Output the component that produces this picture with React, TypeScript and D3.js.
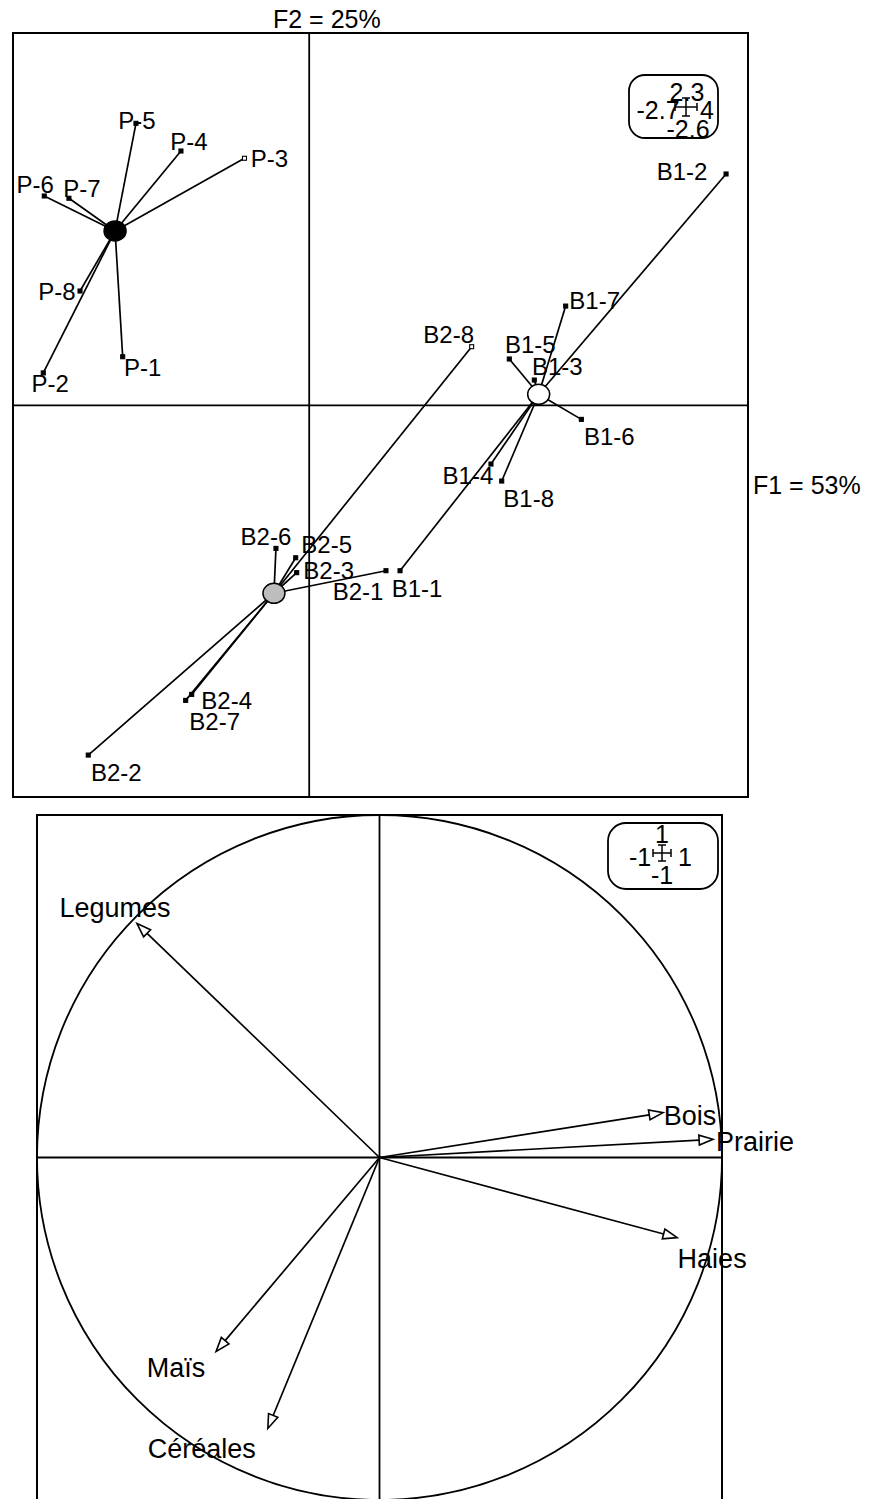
import React from 'react';
import * as d3 from 'd3';

// ---------- data: individuals (top panel) ----------
const pointNames = ['P-1', 'P-2', 'P-3', 'P-4', 'P-5', 'P-6', 'P-7', 'P-8',
  'B1-1', 'B1-2', 'B1-3', 'B1-4', 'B1-5', 'B1-6', 'B1-7', 'B1-8',
  'B2-1', 'B2-2', 'B2-3', 'B2-4', 'B2-5', 'B2-6', 'B2-7', 'B2-8'];
const pointGroups = ['P', 'P', 'P', 'P', 'P', 'P', 'P', 'P',
  'B1', 'B1', 'B1', 'B1', 'B1', 'B1', 'B1', 'B1',
  'B2', 'B2', 'B2', 'B2', 'B2', 'B2', 'B2', 'B2'];
const pointF1 = [-1.70, -2.424, -0.59, -1.169, -1.579, -2.415, -2.19, -2.089,
  0.828, 3.80, 2.052, 1.657, 1.824, 2.481, 2.338, 1.755,
  0.700, -2.014, -0.114, -1.071, -0.123, -0.303, -1.126, 1.481];
const pointF2 = [0.30, 0.20, 1.526, 1.571, 1.742, 1.293, 1.279, 0.706,
  -1.022, 1.429, 0.156, -0.363, 0.286, -0.087, 0.613, -0.468,
  -1.022, -2.161, -1.034, -1.786, -0.942, -0.884, -1.823, 0.362];
// label displacement from its point (pixels)
const labelDx = [20, 7, 25, 8, 1, -9, 13, -23,
  17, -44, 23, -23, 21, 28, 29, 27,
  -28, 28, 32, 35, 31, -10, 29, -23];
const labelDy = [11, 11, 0, -9, -3, -11, -10, 0,
  18, -2, -14, 11, -14, 17, -6, 17,
  21, 17, -2, 6, -13, -12, 21, -12];

const groupNames = ['P', 'B1', 'B2'];
const groupFill = ['#000000', '#ffffff', '#bdbdbd'];

const f1Legend = [-2.7, 4];
const f2Legend = [-2.6, 2.3];
const axisTitles = ['F1 = 53%', 'F2 = 25%'];

// ---------- data: variables (correlation circle) ----------
const varNames = ['Legumes', 'Bois', 'Prairie', 'Haies', 'Maïs', 'Céréales'];
const varF1 = [-0.708, 0.828, 0.974, 0.869, -0.477, -0.326];
const varF2 = [0.683, 0.131, 0.053, -0.234, -0.566, -0.791];
const varDx = [-22, 27, 42, 35, -40, -66];
const varDy = [-16, 3, 3, 21, 17, 21];
const circleLegend = [-1, 1];

const FONT = '"Liberation Sans", Arial, Helvetica, sans-serif';

function Cross({ cx, cy, hx, hy, t }: { cx: number; cy: number; hx: number; hy: number; t: number }) {
  return (
    <g stroke="#000" strokeWidth={1.5}>
      <line x1={cx - hx} y1={cy} x2={cx + hx} y2={cy} />
      <line x1={cx} y1={cy - hy} x2={cx} y2={cy + hy} />
      <line x1={cx - hx} y1={cy - t} x2={cx - hx} y2={cy + t} />
      <line x1={cx + hx} y1={cy - t} x2={cx + hx} y2={cy + t} />
      <line x1={cx - t} y1={cy - hy} x2={cx + t} y2={cy - hy} />
      <line x1={cx - t} y1={cy + hy} x2={cx + t} y2={cy + hy} />
    </g>
  );
}

export default function App() {
  // ---- top panel scales ----
  const x = d3.scaleLinear().domain([-2.7, 4]).range([13, 748]);
  const y = d3.scaleLinear().domain([-2.42, 2.3]).range([797, 33]);

  const centers = groupNames.map((g) => {
    const idx = pointGroups.map((pg, i) => (pg === g ? i : -1)).filter((i) => i >= 0);
    return {
      g,
      cx: d3.mean(idx, (i) => pointF1[i]) as number,
      cy: d3.mean(idx, (i) => pointF2[i]) as number,
    };
  });
  const centerOf = (g: string) => centers.find((c) => c.g === g)!;

  // ---- bottom panel scales ----
  const u = d3.scaleLinear().domain(circleLegend).range([37, 722]);
  const v = d3.scaleLinear().domain(circleLegend).range([1500, 815]);
  const r = u(1) - u(0);

  const [x0, x1] = x.range();
  const [y1, y0] = y.range();

  return (
    <svg width={872} height={1499} style={{ position: 'absolute', left: 0, top: 0, background: '#fff' }}
      fontFamily={FONT}>
      {/* ============ TOP PANEL ============ */}
      <rect x={x0} y={y0} width={x1 - x0} height={y1 - y0} fill="none" stroke="#000" strokeWidth={2} />
      <line x1={x(0)} y1={y0} x2={x(0)} y2={y1} stroke="#000" strokeWidth={1.8} />
      <line x1={x0} y1={y(0)} x2={x1} y2={y(0)} stroke="#000" strokeWidth={1.8} />
      <text x={273} y={28} fontSize={25}>{axisTitles[1]}</text>
      <text x={753} y={494} fontSize={25}>{axisTitles[0]}</text>

      {/* legend box */}
      <rect x={629} y={75} width={89} height={63} rx={16} fill="#fff" stroke="#000" strokeWidth={1.8} />
      <g fontSize={25} textAnchor="middle" dominantBaseline="central">
        <text x={687} y={92}>{f2Legend[1]}</text>
        <text x={658} y={110}>{f1Legend[0]}</text>
        <text x={707} y={110}>{f1Legend[1]}</text>
        <text x={688} y={129}>{f2Legend[0]}</text>
      </g>
      <Cross cx={686} cy={107} hx={11} hy={9} t={4} />

      {/* star lines */}
      <g stroke="#000" strokeWidth={1.7}>
        {pointNames.map((n, i) => {
          const c = centerOf(pointGroups[i]);
          return <line key={n} x1={x(c.cx)} y1={y(c.cy)} x2={x(pointF1[i])} y2={y(pointF2[i])} />;
        })}
      </g>
      {/* point markers */}
      <g>
        {pointNames.map((n, i) => (
          <rect key={n} x={x(pointF1[i]) - 2} y={y(pointF2[i]) - 2} width={4} height={4}
            fill={n === 'P-3' || n === 'B2-8' ? '#fff' : '#000'} stroke="#000" strokeWidth={1.1} />
        ))}
      </g>
      {/* class centres */}
      {centers.map((c, k) => (
        <ellipse key={c.g} cx={x(c.cx)} cy={y(c.cy)} rx={11} ry={10}
          fill={groupFill[k]} stroke="#000" strokeWidth={1.5} />
      ))}
      {/* labels */}
      <g fontSize={24} textAnchor="middle" dominantBaseline="central">
        {pointNames.map((n, i) => (
          <text key={n} x={x(pointF1[i]) + labelDx[i]} y={y(pointF2[i]) + labelDy[i]}>{n}</text>
        ))}
      </g>

      {/* ============ BOTTOM PANEL ============ */}
      <rect x={37} y={815} width={685} height={685} fill="none" stroke="#000" strokeWidth={2} />
      <line x1={u(0)} y1={815} x2={u(0)} y2={1500} stroke="#000" strokeWidth={1.8} />
      <line x1={37} y1={v(0)} x2={722} y2={v(0)} stroke="#000" strokeWidth={1.8} />
      <circle cx={u(0)} cy={v(0)} r={r} fill="none" stroke="#000" strokeWidth={1.8} />

      <rect x={608} y={823} width={110} height={66} rx={18} fill="#fff" stroke="#000" strokeWidth={1.8} />
      <g fontSize={25} textAnchor="middle" dominantBaseline="central">
        <text x={662} y={834}>{circleLegend[1]}</text>
        <text x={640} y={857}>{circleLegend[0]}</text>
        <text x={685} y={857}>{circleLegend[1]}</text>
        <text x={662} y={875}>{circleLegend[0]}</text>
      </g>
      <Cross cx={662} cy={853} hx={9} hy={8} t={4} />

      {varNames.map((n, i) => {
        const ox = u(0), oy = v(0);
        const tx = u(varF1[i]), ty = v(varF2[i]);
        const a = Math.atan2(ty - oy, tx - ox);
        const L = 14, W = 5;
        const bx = tx - L * Math.cos(a), by = ty - L * Math.sin(a);
        const nx = -Math.sin(a), ny = Math.cos(a);
        const head = `${tx},${ty} ${bx + W * nx},${by + W * ny} ${bx - W * nx},${by - W * ny}`;
        return (
          <g key={n}>
            <line x1={ox} y1={oy} x2={bx} y2={by} stroke="#000" strokeWidth={1.7} />
            <polygon points={head} fill="#fff" stroke="#000" strokeWidth={1.6} strokeLinejoin="miter" />
            <text x={tx + varDx[i]} y={ty + varDy[i]} fontSize={27} textAnchor="middle"
              dominantBaseline="central">{n}</text>
          </g>
        );
      })}
    </svg>
  );
}
